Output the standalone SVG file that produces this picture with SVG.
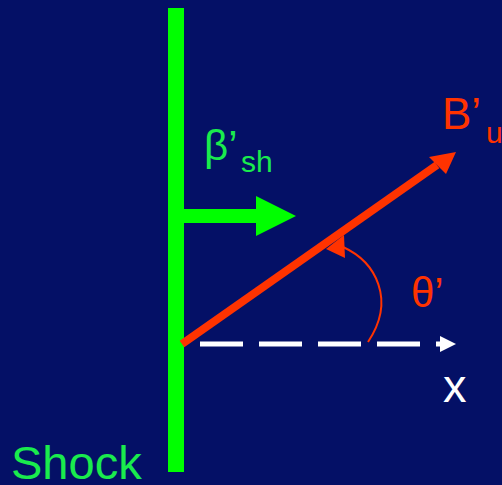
<svg xmlns="http://www.w3.org/2000/svg" width="502" height="485" viewBox="0 0 502 485">
<style>
.gt{fill:#1aeb4d;font-family:"Liberation Sans",Arial,sans-serif}
.rt{fill:#ff3300;font-family:"Liberation Sans",Arial,sans-serif}
.wt{fill:#ffffff;font-family:"Liberation Sans",Arial,sans-serif}
</style>
<rect x="0" y="0" width="502" height="485" fill="#041066"/>
<g id="shock">
<rect x="168" y="8" width="16" height="464" fill="#00ff00"/>
<text class="gt" x="11" y="479" font-size="47">Shock</text>
</g>
<g id="beta">
<rect x="183" y="209" width="74" height="14" fill="#00ff00"/>
<polygon points="256,196 296,216 256,236" fill="#00ff00"/>
<text class="gt" x="204" y="160" font-size="42">β’<tspan x="241" y="172" font-size="30">sh</tspan></text>
</g>
<g id="connectors">
<g id="B">
<line x1="182" y1="344" x2="437" y2="165" stroke="#ff3300" stroke-width="8"/>
<polygon points="456,152 429,157 446,174" fill="#ff3300"/>
</g>
<g id="xaxis">
<line x1="200" y1="344" x2="444" y2="344" stroke="#ffffff" stroke-width="5" stroke-dasharray="43 16"/>
<polygon points="440,336 456,344 440,352" fill="#ffffff"/>
</g>
<g id="theta-arc">
<path d="M368,342 C396,300 376,262 343,247" fill="none" stroke="#ff3300" stroke-width="2"/>
<polygon points="326,249 344,235 345,258" fill="#ff3300"/>
</g>
</g>
<g id="labels">
<text class="rt" x="442" y="129" font-size="44">B’<tspan x="486" y="143" font-size="30">u</tspan></text>
<text class="rt" x="411" y="307" font-size="42">θ’</text>
<text class="wt" x="443" y="402" font-size="47">x</text>
</g>
</svg>
